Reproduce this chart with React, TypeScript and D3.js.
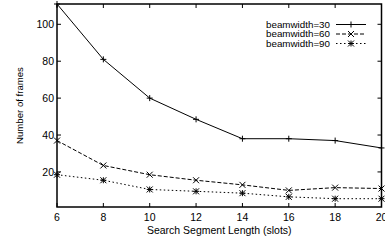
import React from "react";
import * as d3 from "d3";

const segmentLengths = [6, 8, 10, 12, 14, 16, 18, 20];
const beam30 = [111, 81, 60, 48.5, 38, 38, 37, 33];
const beam60 = [37, 23.5, 18.5, 15.5, 13, 10, 11.5, 11];
const beam90 = [18.5, 15.5, 10.5, 9.5, 8.5, 6.5, 5.5, 5.5];
const yTicks = [20, 40, 60, 80, 100];
const seriesNames = ["beamwidth=30", "beamwidth=60", "beamwidth=90"];

const W = 385, H = 241;
const L = 57, R = 381.5, T = 4, B = 207;
const FONT = "'Liberation Sans', Arial, Helvetica, sans-serif";

function Marker({ kind, x, y }: { kind: number; x: number; y: number }) {
  const s = 3;
  const plus = `M${x - s},${y}H${x + s}M${x},${y - s}V${y + s}`;
  const cross = `M${x - s},${y - s}L${x + s},${y + s}M${x - s},${y + s}L${x + s},${y - s}`;
  const d = kind === 0 ? plus : kind === 1 ? cross : plus + cross;
  return <path d={d} stroke="#000" strokeWidth={1} fill="none" />;
}

export default function App() {
  const x = d3.scaleLinear().domain([6, 20]).range([L, R]);
  const y = d3.scaleLinear().domain([1, 111]).range([B, T]);
  const line = d3
    .line<number>()
    .x((_, i) => x(segmentLengths[i]))
    .y((v) => y(v));
  const series = [beam30, beam60, beam90];
  const dashes = ["", "4,2", "1.5,2.5"];
  const tickLen = 4;
  const legendRows = [24.5, 34, 43.5];
  return (
    <svg
      width={W}
      height={H}
      style={{ position: "absolute", left: 0, top: 0, background: "#fff" }}
      fontFamily={FONT}
    >
      <rect x={0} y={0} width={W} height={H} fill="#fff" />
      {segmentLengths.map((v) => (
        <g key={"xt" + v}>
          <line x1={x(v)} x2={x(v)} y1={B} y2={B - tickLen} stroke="#000" strokeWidth={1} />
          <line x1={x(v)} x2={x(v)} y1={T} y2={T + tickLen} stroke="#000" strokeWidth={1} />
          <text x={x(v)} y={221} fontSize={10.5} textAnchor="middle" fill="#000">
            {v}
          </text>
        </g>
      ))}
      {yTicks.map((v) => (
        <g key={"yt" + v}>
          <line x1={L} x2={L + tickLen} y1={y(v)} y2={y(v)} stroke="#000" strokeWidth={1} />
          <line x1={R} x2={R - tickLen} y1={y(v)} y2={y(v)} stroke="#000" strokeWidth={1} />
          <text x={54} y={y(v) + 3.7} fontSize={10.5} textAnchor="end" fill="#000">
            {v}
          </text>
        </g>
      ))}
      {series.map((s, k) => (
        <g key={"s" + k}>
          <path d={line(s) || ""} fill="none" stroke="#000" strokeWidth={1} strokeDasharray={dashes[k]} />
          {s.map((v, i) => (
            <Marker key={i} kind={k} x={x(segmentLengths[i])} y={y(v)} />
          ))}
        </g>
      ))}
      {seriesNames.map((n, k) => (
        <g key={"lg" + k}>
          <text x={330} y={legendRows[k] + 3.4} fontSize={9.8} textAnchor="end" fill="#000">
            {n}
          </text>
          <line
            x1={336}
            x2={366}
            y1={legendRows[k]}
            y2={legendRows[k]}
            stroke="#000"
            strokeWidth={1}
            strokeDasharray={dashes[k]}
          />
          <Marker kind={k} x={351} y={legendRows[k]} />
        </g>
      ))}
      <rect x={L} y={T} width={R - L} height={B - T} fill="none" stroke="#000" strokeWidth={1.5} />
      <text x={(L + R) / 2} y={234} fontSize={10.5} textAnchor="middle" fill="#000">
        Search Segment Length (slots)
      </text>
      <text
        transform={`translate(23,${(T + B) / 2}) rotate(-90)`}
        fontSize={9.6}
        textAnchor="middle"
        fill="#000"
      >
        Number of frames
      </text>
    </svg>
  );
}
